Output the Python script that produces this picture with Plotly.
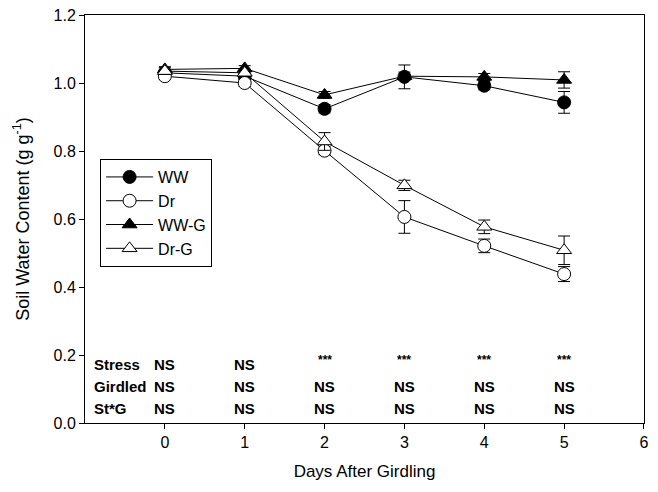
import plotly.graph_objects as go

days = [0, 1, 2, 3, 4, 5]

ww = [1.03, 1.02, 0.924, 1.018, 0.992, 0.943]
ww_err = [0.01, 0.01, 0.012, 0.035, 0.012, 0.032]

dr = [1.02, 1.0, 0.801, 0.606, 0.521, 0.438]
dr_err = [0.01, 0.01, 0.012, 0.048, 0.02, 0.022]

wwg = [1.04, 1.043, 0.965, 1.02, 1.018, 1.009]
wwg_err = [0.008, 0.008, 0.01, 0.012, 0.01, 0.024]

drg = [1.035, 1.03, 0.828, 0.699, 0.577, 0.508]
drg_err = [0.01, 0.01, 0.026, 0.015, 0.02, 0.042]

row_labels = ["Stress", "Girdled", "St*G"]
row_y = [0.173, 0.108, 0.044]
stress_sig = ["NS", "NS", "***", "***", "***", "***"]
girdled_sig = ["NS", "NS", "NS", "NS", "NS", "NS"]
stg_sig = ["NS", "NS", "NS", "NS", "NS", "NS"]

FONT = "Arial, Liberation Sans, sans-serif"

fig = go.Figure()

def add(name, y, err, symbol, fill):
    fig.add_trace(go.Scatter(
        x=days, y=y, name=name, mode="lines+markers",
        line=dict(color="black", width=1),
        marker=dict(symbol=symbol, size=13, color=fill,
                    line=dict(color="black", width=1)),
        error_y=dict(type="data", array=err, color="black", thickness=1, width=6),
    ))

add("WW", ww, ww_err, "circle", "black")
add("Dr", dr, dr_err, "circle", "white")
add("WW-G", wwg, wwg_err, "triangle-up", "black")
add("Dr-G", drg, drg_err, "triangle-up", "white")

for label, yy in zip(row_labels, row_y):
    fig.add_annotation(x=-0.91, y=yy, text="<b>%s</b>" % label, showarrow=False,
                       xanchor="left", yanchor="middle",
                       font=dict(family=FONT, size=15, color="black"))

for sig, yy in zip([stress_sig, girdled_sig, stg_sig], row_y):
    for d, s in zip(days, sig):
        star = (s == "***")
        fig.add_annotation(x=d, y=yy + (0.012 if star else 0), text="<b>%s</b>" % s,
                           showarrow=False, xanchor="center", yanchor="middle",
                           font=dict(family=FONT, size=12 if star else 15, color="black"))

# page body adds an 8px margin; size the figure so the page does not overflow
fig.update_layout(
    width=642, height=476,
    margin=dict(l=77, r=6, t=7, b=61),
    paper_bgcolor="white", plot_bgcolor="white",
    font=dict(family=FONT, size=16, color="black"),
    showlegend=True,
    legend=dict(x=0.027, y=0.647, xanchor="left", yanchor="top",
                bordercolor="black", borderwidth=1, bgcolor="white",
                font=dict(family=FONT, size=16, color="black"),
                tracegroupgap=0, itemwidth=47),
    xaxis=dict(range=[-1, 6.0005], tickvals=[0, 1, 2, 3, 4, 5, 6],
               ticks="outside", ticklen=5, tickcolor="black",
               showline=True, linecolor="black", linewidth=1, mirror=True,
               showgrid=False, zeroline=False, automargin=False,
               ticklabeloverflow="allow",
               tickfont=dict(size=16),
               title=dict(text="Days After Girdling", font=dict(size=17), standoff=14)),
    yaxis=dict(range=[0, 1.2], tickvals=[0, 0.2, 0.4, 0.6, 0.8, 1.0, 1.2],
               tickformat=".1f",
               ticks="outside", ticklen=5, tickcolor="black",
               showline=True, linecolor="black", linewidth=1, mirror=True,
               showgrid=False, zeroline=False, automargin=False,
               ticklabeloverflow="allow",
               tickfont=dict(size=16),
               title=dict(text="Soil Water Content (g g<sup>-1</sup>)", font=dict(size=18), standoff=19)),
)

fig.write_html("out.html")
